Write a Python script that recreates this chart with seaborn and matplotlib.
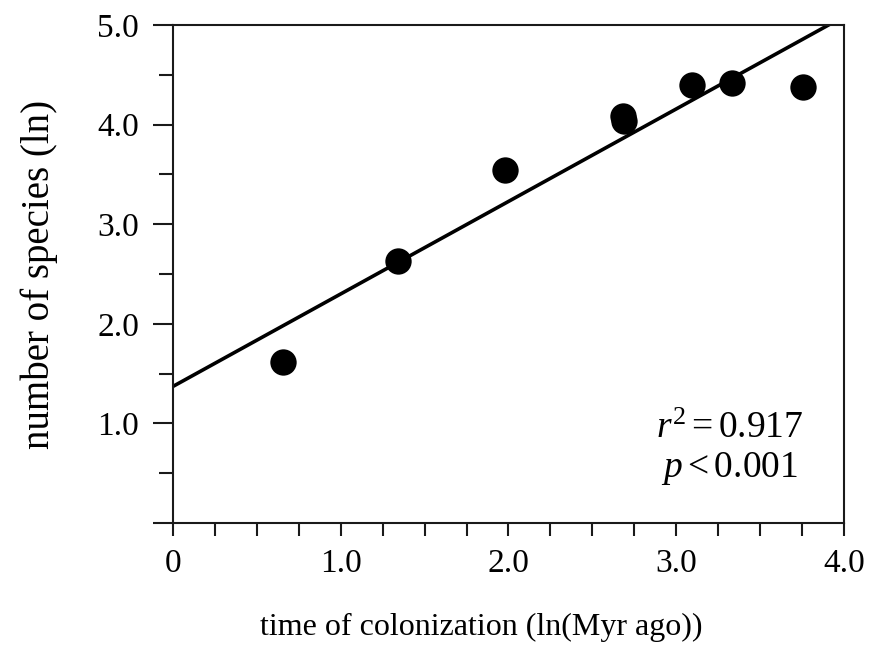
import matplotlib
matplotlib.use('Agg')
import matplotlib.pyplot as plt
import seaborn as sns
import pandas as pd
from matplotlib.ticker import MultipleLocator

# data (ln scale on both axes)
colonization_time = [0.656, 1.341, 1.979, 2.683, 2.688, 3.094, 3.332, 3.756]
species_count = [1.617, 2.630, 3.544, 4.085, 4.035, 4.398, 4.418, 4.378]

x_ticks = [0, 1, 2, 3, 4]
x_tick_labels = ['0', '1.0', '2.0', '3.0', '4.0']
y_ticks = [0, 1, 2, 3, 4, 5]
y_tick_labels = ['', '1.0', '2.0', '3.0', '4.0', '5.0']

stats_lines = [r'$r^2 = 0.917$', r'$p < 0.001$']

sns.set_style('ticks')
plt.rcParams['font.family'] = ['Liberation Serif', 'DejaVu Serif']
plt.rcParams['mathtext.fontset'] = 'custom'
plt.rcParams['mathtext.rm'] = 'Liberation Serif'
plt.rcParams['mathtext.it'] = 'Liberation Serif:italic'
plt.rcParams['text.color'] = 'black'
plt.rcParams['axes.labelcolor'] = 'black'
plt.rcParams['xtick.color'] = 'black'
plt.rcParams['ytick.color'] = 'black'

df = pd.DataFrame({'time': colonization_time, 'species': species_count})

fig = plt.figure(figsize=(8.71, 6.46), dpi=100)
ax = fig.add_axes([0.1986, 0.1904, 0.7704, 0.7709])
ax.set_xlim(0, 4)

sns.regplot(data=df, x='time', y='species', ax=ax, ci=None, truncate=False,
            scatter_kws=dict(s=360, color='black', linewidths=0, alpha=1),
            line_kws=dict(color='black', lw=2.6))

ax.set_xlim(0, 4)
ax.set_ylim(0, 5)

ax.set_xticks(x_ticks)
ax.set_xticklabels(x_tick_labels)
ax.set_yticks(y_ticks)
ax.set_yticklabels(y_tick_labels)
ax.xaxis.set_minor_locator(MultipleLocator(0.25))
ax.yaxis.set_minor_locator(MultipleLocator(0.5))

for side in ['left', 'right', 'top', 'bottom']:
    ax.spines[side].set_visible(True)
    ax.spines[side].set_linewidth(1.5)
    ax.spines[side].set_color('#1a1a1a')

ax.tick_params(axis='y', which='major', direction='out', length=14.4, width=1.5,
               color='#1a1a1a', labelcolor='black', labelsize=24, pad=10)
ax.tick_params(axis='y', which='minor', direction='out', length=10, width=1.5,
               color='#1a1a1a')
ax.tick_params(axis='x', which='both', direction='out', length=9.4, width=1.5,
               color='#1a1a1a', labelcolor='black', labelsize=24, pad=9)

ax.set_xlabel('time of colonization (ln(Myr ago))', fontsize=23, color='black')
ax.set_ylabel('number of species (ln)', fontsize=28, color='black')
ax.xaxis.set_label_coords(0.46, -0.18)
ax.yaxis.set_label_coords(-0.172, 0.5)

ax.text(0.83, 0.19, stats_lines[0], transform=ax.transAxes, fontsize=27,
        ha='center', va='center', color='black')
ax.text(0.83, 0.11, stats_lines[1], transform=ax.transAxes, fontsize=27,
        ha='center', va='center', color='black')

fig.savefig('out.png', dpi=100, facecolor='white')
